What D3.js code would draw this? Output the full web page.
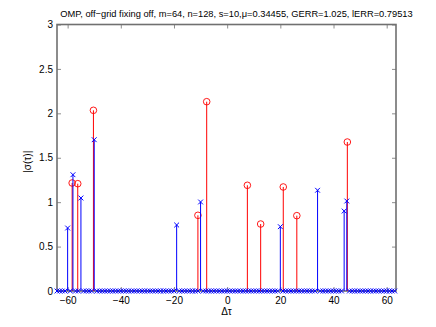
<!DOCTYPE html>
<html>
<head>
<meta charset="utf-8">
<script src="https://cdn.jsdelivr.net/npm/d3@7"></script>
<style>
  body { margin: 0; background: #fff; }
  text { font-family: "Liberation Sans", Arial, sans-serif; fill: #000; }
</style>
</head>
<body>
<svg id="chart" width="436" height="327"></svg>
<script>
// true (off-grid) delays and amplitudes - red circles
const trueTau = [-58.3, -56.2, -50.3, -11.0, -7.7, 7.6, 12.6, 21.1, 26.2, 45.2];
const trueAmp = [1.216, 1.208, 2.034, 0.852, 2.131, 1.19, 0.754, 1.171, 0.848, 1.677];
// OMP estimate on the grid - blue crosses
const estTau = [-60, -58, -55, -50, -19, -10, 20, 34, 44, 45];
const estAmp = [0.709, 1.309, 1.047, 1.703, 0.743, 1.002, 0.724, 1.134, 0.90, 1.013];
const gridTau = d3.range(-64, 64); // n = 128 grid points
const xTicks = [-60, -40, -20, 0, 20, 40, 60];
const yTicks = [0, 0.5, 1, 1.5, 2, 2.5, 3];
const title = "OMP, off\u2212grid fixing off, m=64, n=128, s=10,\u03bc=0.34455, GERR=1.025, lERR=0.79513";

const margin = { top: 24.5, right: 40, bottom: 36, left: 57 };
const width = 436, height = 327;

const svg = d3.select("#chart");

const x = d3.scaleLinear().domain([-64, 63.5]).range([margin.left, width - margin.right]);
const y = d3.scaleLinear().domain([0, 3]).range([height - margin.bottom, margin.top]);

// estimate vector: zero everywhere on the grid except the picked atoms
const est = gridTau.map(t => {
  const i = estTau.indexOf(t);
  return { t, a: i >= 0 ? estAmp[i] : 0 };
});
const tru = trueTau.map((t, i) => ({ t, a: trueAmp[i] }));

// axes box (drawn first, data goes on top)
const axisColor = "#707070";
const tl = 4;
const gx = svg.append("g").attr("transform", `translate(0,${y(0)})`)
  .call(d3.axisBottom(x).tickValues(xTicks).tickSizeInner(-tl).tickSizeOuter(0).tickPadding(6)
    .tickFormat(d => d < 0 ? "\u2212" + Math.abs(d) : d));
const gxt = svg.append("g").attr("transform", `translate(0,${y(3)})`)
  .call(d3.axisTop(x).tickValues(xTicks).tickSizeInner(-tl).tickSizeOuter(0).tickFormat(""));
const gy = svg.append("g").attr("transform", `translate(${x.range()[0]},0)`)
  .call(d3.axisLeft(y).tickValues(yTicks).tickSizeInner(-tl).tickSizeOuter(0).tickPadding(4)
    .tickFormat(d3.format("")));
const gyr = svg.append("g").attr("transform", `translate(${x.range()[1]},0)`)
  .call(d3.axisRight(y).tickValues(yTicks).tickSizeInner(-tl).tickSizeOuter(0).tickFormat(""));

[gx, gxt, gy, gyr].forEach(g => {
  g.select(".domain").remove();
  g.selectAll(".tick line").attr("stroke", axisColor).attr("stroke-width", 0.8);
  g.selectAll("text").attr("font-size", 10).attr("fill", "#000")
    .style("font-family", "'Liberation Sans', Arial, sans-serif");
});

svg.append("rect")
  .attr("x", x.range()[0]).attr("y", y(3))
  .attr("width", x.range()[1] - x.range()[0]).attr("height", y(0) - y(3))
  .attr("fill", "none").attr("stroke", axisColor).attr("stroke-width", 1.6);

const plot = svg.append("g");

// red stems
plot.selectAll(".rs").data(tru).enter().append("line")
  .attr("x1", d => x(d.t)).attr("x2", d => x(d.t))
  .attr("y1", y(0)).attr("y2", d => y(d.a))
  .attr("stroke", "#ff0000").attr("stroke-width", 1);
plot.selectAll(".rc").data(tru).enter().append("circle")
  .attr("cx", d => x(d.t)).attr("cy", d => y(d.a)).attr("r", 3.3)
  .attr("fill", "none").attr("stroke", "#ff0000").attr("stroke-width", 0.9);

// blue stems
plot.selectAll(".bs").data(est.filter(d => d.a > 0)).enter().append("line")
  .attr("x1", d => x(d.t)).attr("x2", d => x(d.t))
  .attr("y1", y(0)).attr("y2", d => y(d.a))
  .attr("stroke", "#0000ff").attr("stroke-width", 1);
const s = 2.4;
plot.selectAll(".bx").data(est).enter().append("path")
  .attr("d", d => {
    const cx = x(d.t), cy = y(d.a);
    return `M${cx - s},${cy - s}L${cx + s},${cy + s}M${cx - s},${cy + s}L${cx + s},${cy - s}`;
  })
  .attr("stroke", "#0000ff").attr("stroke-width", 1).attr("fill", "none");

// labels
svg.append("text")
  .attr("x", (x.range()[0] + x.range()[1]) / 2 + 10).attr("y", 17)
  .attr("text-anchor", "middle").attr("font-size", 9.3)
  .text(title);

svg.append("text")
  .attr("x", (x.range()[0] + x.range()[1]) / 2).attr("y", 315)
  .attr("text-anchor", "middle").attr("font-size", 10)
  .text("\u0394\u03c4");

svg.append("text")
  .attr("transform", `translate(31,${(y(0) + y(3)) / 2 + 4}) rotate(-90)`)
  .attr("text-anchor", "middle").attr("font-size", 10)
  .text("|\u03c3(\u03c4)|");
</script>
</body>
</html>
